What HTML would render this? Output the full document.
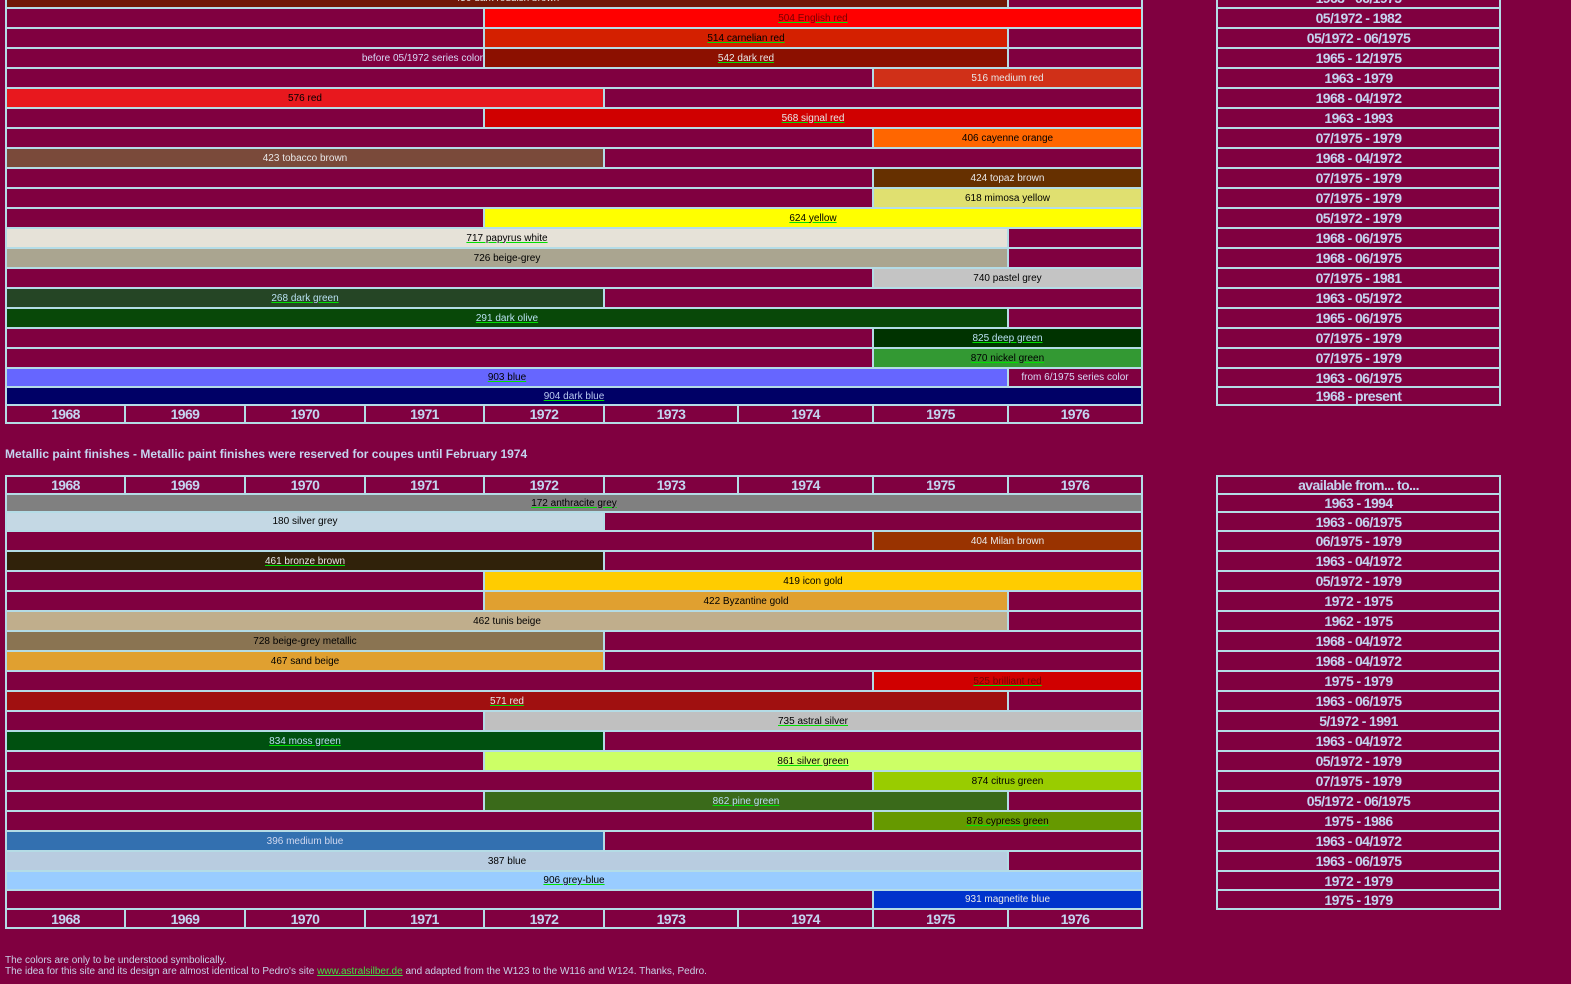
<!DOCTYPE html>
<html><head><meta charset="utf-8"><style>
body{margin:0;width:1571px;height:984px;background:#800040;overflow:hidden;position:relative;font-family:"Liberation Sans",Arial,sans-serif}
.fr{position:absolute;background:#b4dce6}
.c{position:absolute;display:flex;align-items:center;justify-content:center;font-size:10px;color:#e8e8e8;white-space:nowrap;background:#800040}
.k{color:#000}
.u span{text-decoration:underline;text-decoration-color:#00e000}
.y{font-size:14px;font-weight:bold;color:#c4d4f0;letter-spacing:-0.6px}
.a{left:7px;width:1000px}.b{left:1009px;width:132px}.c1{left:7px;width:476px}.d{left:485px;width:656px}
.e{left:485px;width:522px}.f{left:7px;width:865px}.g{left:874px;width:267px}.h{left:7px;width:596px}
.i{left:605px;width:536px}.j{left:7px;width:1134px}
.r{left:1218px;width:281px}
.y1{left:7px;width:117px}.y2{left:126px;width:118px}.y3{left:246px;width:118px}.y4{left:366px;width:117px}.y5{left:485px;width:118px}.y6{left:605px;width:132px}.y7{left:739px;width:133px}.y8{left:874px;width:133px}.y9{left:1009px;width:132px}
.hd{position:absolute;left:5px;top:447px;font-size:12px;font-weight:bold;color:#c4d4f0}
.ft{position:absolute;left:5px;font-size:10px;color:#c8d0e8}
.ft a{color:#40e040;text-decoration:underline}
</style></head><body>

<div class="fr" style="left:5px;top:-13px;width:1138px;height:437px"></div>
<div class="fr" style="left:1216px;top:-13px;width:285px;height:419px"></div>
<div class="fr" style="left:5px;top:475px;width:1138px;height:454px"></div>
<div class="fr" style="left:1216px;top:475px;width:285px;height:435px"></div>

<div class="c a" style="top:-11px;height:18px;background:#701808">450 dark reddish brown</div><div class="c b" style="top:-11px;height:18px"></div>
<div class="c c1" style="top:9px;height:18px"></div><div class="c d k u" style="top:9px;height:18px;background:#ff0000;color:#700"><span>504 English red</span></div>
<div class="c c1" style="top:29px;height:18px"></div><div class="c e k u" style="top:29px;height:18px;background:#d42000"><span>514 carnelian red</span></div><div class="c b" style="top:29px;height:18px"></div>
<div class="c c1" style="top:49px;height:18px;justify-content:flex-end;color:#d8d8f8">before 05/1972 series color</div><div class="c e u" style="top:49px;height:18px;background:#8c1000"><span>542 dark red</span></div><div class="c b" style="top:49px;height:18px"></div>
<div class="c f" style="top:69px;height:18px"></div><div class="c g" style="top:69px;height:18px;background:#d03018">516 medium red</div>
<div class="c h k" style="top:89px;height:18px;background:#e8181e">576 red</div><div class="c i" style="top:89px;height:18px"></div>
<div class="c c1" style="top:109px;height:18px"></div><div class="c d u" style="top:109px;height:18px;background:#d00000"><span>568 signal red</span></div>
<div class="c f" style="top:129px;height:18px"></div><div class="c g k" style="top:129px;height:18px;background:#ff6600">406 cayenne orange</div>
<div class="c h" style="top:149px;height:18px;background:#7a4a3a">423 tobacco brown</div><div class="c i" style="top:149px;height:18px"></div>
<div class="c f" style="top:169px;height:18px"></div><div class="c g" style="top:169px;height:18px;background:#663000">424 topaz brown</div>
<div class="c f" style="top:189px;height:18px"></div><div class="c g k" style="top:189px;height:18px;background:#e0e070">618 mimosa yellow</div>
<div class="c c1" style="top:209px;height:18px"></div><div class="c d k u" style="top:209px;height:18px;background:#ffff00"><span>624 yellow</span></div>
<div class="c a k u" style="top:229px;height:18px;background:#e6e2d8"><span>717 papyrus white</span></div><div class="c b" style="top:229px;height:18px"></div>
<div class="c a k" style="top:249px;height:18px;background:#aaa590">726 beige-grey</div><div class="c b" style="top:249px;height:18px"></div>
<div class="c f" style="top:269px;height:18px"></div><div class="c g k" style="top:269px;height:18px;background:#c4c4c4">740 pastel grey</div>
<div class="c h u" style="top:289px;height:18px;background:#254525;color:#b8e0f0"><span>268 dark green</span></div><div class="c i" style="top:289px;height:18px"></div>
<div class="c a u" style="top:309px;height:18px;background:#084808;color:#b8e0f0"><span>291 dark olive</span></div><div class="c b" style="top:309px;height:18px"></div>
<div class="c f" style="top:329px;height:18px"></div><div class="c g u" style="top:329px;height:18px;background:#003300;color:#b8e0f0"><span>825 deep green</span></div>
<div class="c f" style="top:349px;height:18px"></div><div class="c g k u" style="top:349px;height:18px;background:#339933"><span>870 nickel green</span></div>
<div class="c a k u" style="top:369px;height:17px;background:#6666ff"><span>903 blue</span></div><div class="c b" style="top:369px;height:17px;color:#d8d8f8">from 6/1975 series color</div>
<div class="c j u" style="top:388px;height:16px;background:#000066;color:#b8c8f0"><span>904 dark blue</span></div>
<div class="c y y1" style="top:406px;height:16px">1968</div><div class="c y y2" style="top:406px;height:16px">1969</div><div class="c y y3" style="top:406px;height:16px">1970</div><div class="c y y4" style="top:406px;height:16px">1971</div><div class="c y y5" style="top:406px;height:16px">1972</div><div class="c y y6" style="top:406px;height:16px">1973</div><div class="c y y7" style="top:406px;height:16px">1974</div><div class="c y y8" style="top:406px;height:16px">1975</div><div class="c y y9" style="top:406px;height:16px">1976</div>

<div class="c y r" style="top:-11px;height:18px">1963 - 06/1975</div>
<div class="c y r" style="top:9px;height:18px">05/1972 - 1982</div>
<div class="c y r" style="top:29px;height:18px">05/1972 - 06/1975</div>
<div class="c y r" style="top:49px;height:18px">1965 - 12/1975</div>
<div class="c y r" style="top:69px;height:18px">1963 - 1979</div>
<div class="c y r" style="top:89px;height:18px">1968 - 04/1972</div>
<div class="c y r" style="top:109px;height:18px">1963 - 1993</div>
<div class="c y r" style="top:129px;height:18px">07/1975 - 1979</div>
<div class="c y r" style="top:149px;height:18px">1968 - 04/1972</div>
<div class="c y r" style="top:169px;height:18px">07/1975 - 1979</div>
<div class="c y r" style="top:189px;height:18px">07/1975 - 1979</div>
<div class="c y r" style="top:209px;height:18px">05/1972 - 1979</div>
<div class="c y r" style="top:229px;height:18px">1968 - 06/1975</div>
<div class="c y r" style="top:249px;height:18px">1968 - 06/1975</div>
<div class="c y r" style="top:269px;height:18px">07/1975 - 1981</div>
<div class="c y r" style="top:289px;height:18px">1963 - 05/1972</div>
<div class="c y r" style="top:309px;height:18px">1965 - 06/1975</div>
<div class="c y r" style="top:329px;height:18px">07/1975 - 1979</div>
<div class="c y r" style="top:349px;height:18px">07/1975 - 1979</div>
<div class="c y r" style="top:369px;height:17px">1963 - 06/1975</div>
<div class="c y r" style="top:388px;height:16px">1968 - present</div>

<div class="hd">Metallic paint finishes - Metallic paint finishes were reserved for coupes until February 1974</div>

<div class="c y y1" style="top:477px;height:16px">1968</div><div class="c y y2" style="top:477px;height:16px">1969</div><div class="c y y3" style="top:477px;height:16px">1970</div><div class="c y y4" style="top:477px;height:16px">1971</div><div class="c y y5" style="top:477px;height:16px">1972</div><div class="c y y6" style="top:477px;height:16px">1973</div><div class="c y y7" style="top:477px;height:16px">1974</div><div class="c y y8" style="top:477px;height:16px">1975</div><div class="c y y9" style="top:477px;height:16px">1976</div>
<div class="c j k u" style="top:495px;height:16px;background:#808080"><span>172 anthracite grey</span></div>
<div class="c h k" style="top:513px;height:17px;background:#c4d8e4">180 silver grey</div><div class="c i" style="top:513px;height:17px"></div>
<div class="c f" style="top:532px;height:18px"></div><div class="c g" style="top:532px;height:18px;background:#993300">404 Milan brown</div>
<div class="c h u" style="top:552px;height:18px;background:#30220a"><span>461 bronze brown</span></div><div class="c i" style="top:552px;height:18px"></div>
<div class="c c1" style="top:572px;height:18px"></div><div class="c d k" style="top:572px;height:18px;background:#ffcc00">419 icon gold</div>
<div class="c c1" style="top:592px;height:18px"></div><div class="c e k" style="top:592px;height:18px;background:#e0a030">422 Byzantine gold</div><div class="c b" style="top:592px;height:18px"></div>
<div class="c a k" style="top:612px;height:18px;background:#c0ae8c">462 tunis beige</div><div class="c b" style="top:612px;height:18px"></div>
<div class="c h k" style="top:632px;height:18px;background:#8a7452">728 beige-grey metallic</div><div class="c i" style="top:632px;height:18px"></div>
<div class="c h k" style="top:652px;height:18px;background:#e0a030">467 sand beige</div><div class="c i" style="top:652px;height:18px"></div>
<div class="c f" style="top:672px;height:18px"></div><div class="c g k u" style="top:672px;height:18px;background:#d00000;color:#700"><span>525 brilliant red</span></div>
<div class="c a u" style="top:692px;height:18px;background:#a01010"><span>571 red</span></div><div class="c b" style="top:692px;height:18px"></div>
<div class="c c1" style="top:712px;height:18px"></div><div class="c d k u" style="top:712px;height:18px;background:#c0c0c0"><span>735 astral silver</span></div>
<div class="c h u" style="top:732px;height:18px;background:#005010;color:#b8e0f0"><span>834 moss green</span></div><div class="c i" style="top:732px;height:18px"></div>
<div class="c c1" style="top:752px;height:18px"></div><div class="c d k u" style="top:752px;height:18px;background:#ccff66"><span>861 silver green</span></div>
<div class="c f" style="top:772px;height:18px"></div><div class="c g k" style="top:772px;height:18px;background:#99cc00">874 citrus green</div>
<div class="c c1" style="top:792px;height:18px"></div><div class="c e u" style="top:792px;height:18px;background:#3a6a1a;color:#b8e0f0"><span>862 pine green</span></div><div class="c b" style="top:792px;height:18px"></div>
<div class="c f" style="top:812px;height:18px"></div><div class="c g k u" style="top:812px;height:18px;background:#669900"><span>878 cypress green</span></div>
<div class="c h" style="top:832px;height:18px;background:#3370b0;color:#d0d8f0">396 medium blue</div><div class="c i" style="top:832px;height:18px"></div>
<div class="c a k" style="top:852px;height:18px;background:#b8cce0">387 blue</div><div class="c b" style="top:852px;height:18px"></div>
<div class="c j k u" style="top:872px;height:17px;background:#99ccff"><span>906 grey-blue</span></div>
<div class="c f" style="top:891px;height:17px"></div><div class="c g" style="top:891px;height:17px;background:#0033cc">931 magnetite blue</div>
<div class="c y y1" style="top:910px;height:17px">1968</div><div class="c y y2" style="top:910px;height:17px">1969</div><div class="c y y3" style="top:910px;height:17px">1970</div><div class="c y y4" style="top:910px;height:17px">1971</div><div class="c y y5" style="top:910px;height:17px">1972</div><div class="c y y6" style="top:910px;height:17px">1973</div><div class="c y y7" style="top:910px;height:17px">1974</div><div class="c y y8" style="top:910px;height:17px">1975</div><div class="c y y9" style="top:910px;height:17px">1976</div>

<div class="c y r" style="top:477px;height:16px">available from... to...</div>
<div class="c y r" style="top:495px;height:16px">1963 - 1994</div>
<div class="c y r" style="top:513px;height:17px">1963 - 06/1975</div>
<div class="c y r" style="top:532px;height:18px">06/1975 - 1979</div>
<div class="c y r" style="top:552px;height:18px">1963 - 04/1972</div>
<div class="c y r" style="top:572px;height:18px">05/1972 - 1979</div>
<div class="c y r" style="top:592px;height:18px">1972 - 1975</div>
<div class="c y r" style="top:612px;height:18px">1962 - 1975</div>
<div class="c y r" style="top:632px;height:18px">1968 - 04/1972</div>
<div class="c y r" style="top:652px;height:18px">1968 - 04/1972</div>
<div class="c y r" style="top:672px;height:18px">1975 - 1979</div>
<div class="c y r" style="top:692px;height:18px">1963 - 06/1975</div>
<div class="c y r" style="top:712px;height:18px">5/1972 - 1991</div>
<div class="c y r" style="top:732px;height:18px">1963 - 04/1972</div>
<div class="c y r" style="top:752px;height:18px">05/1972 - 1979</div>
<div class="c y r" style="top:772px;height:18px">07/1975 - 1979</div>
<div class="c y r" style="top:792px;height:18px">05/1972 - 06/1975</div>
<div class="c y r" style="top:812px;height:18px">1975 - 1986</div>
<div class="c y r" style="top:832px;height:18px">1963 - 04/1972</div>
<div class="c y r" style="top:852px;height:18px">1963 - 06/1975</div>
<div class="c y r" style="top:872px;height:17px">1972 - 1979</div>
<div class="c y r" style="top:891px;height:17px">1975 - 1979</div>

<div class="ft" style="top:955px">The colors are only to be understood symbolically.</div>
<div class="ft" style="top:966px">The idea for this site and its design are almost identical to Pedro's site <a>www.astralsilber.de</a> and adapted from the W123 to the W116 and W124. Thanks, Pedro.</div>
</body></html>
